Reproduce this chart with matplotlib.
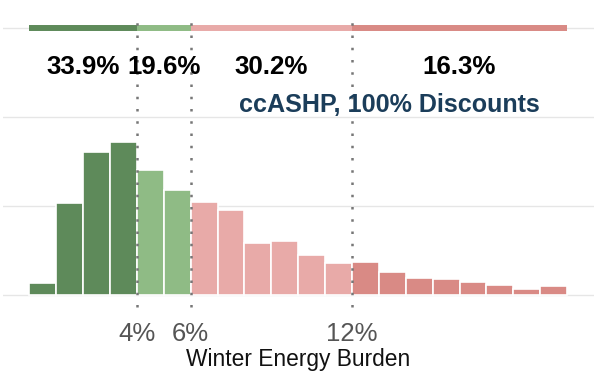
import numpy as np
import matplotlib.pyplot as plt

plt.rcParams['font.family'] = ['Liberation Sans', 'DejaVu Sans']

# 能源负担分布 (每 1% 一个区间)
bin_left = np.arange(0, 20)
counts = [0.13, 1.03, 1.60, 1.71, 1.40, 1.18, 1.04, 0.955, 0.58, 0.60,
          0.44, 0.35, 0.37, 0.25, 0.19, 0.18, 0.146, 0.105, 0.06, 0.098]

# 分组
cuts = [0, 4, 6, 12, 20]
group_colors = ['#5e8a5a', '#8fbb85', '#e8aaa8', '#d98a85']
group_share = ['33.9%', '19.6%', '30.2%', '16.3%']
tick_pos = [4, 6, 12]
tick_lab = ['4%', '6%', '12%']

fig = plt.figure(figsize=(6.07, 3.88), dpi=100)
ax = fig.add_axes([0.0043, 0.2088, 0.9741, 0.789])

# 柱子颜色
bar_colors = []
for x in bin_left:
    for i in range(4):
        if cuts[i] <= x < cuts[i + 1]:
            bar_colors.append(group_colors[i])
ax.bar(bin_left, counts, width=1, align='edge', color=bar_colors,
       edgecolor='white', linewidth=1.2, zorder=2)

# 网格线
for y in [0, 1, 2, 3]:
    ax.axhline(y, color='#e6e6e6', lw=1, zorder=0)

# 顶部色条和百分比
for i in range(4):
    ax.plot([cuts[i], cuts[i + 1]], [3, 3], color=group_colors[i],
            lw=4.3, solid_capstyle='butt', zorder=3)
    ax.text((cuts[i] + cuts[i + 1]) / 2, 2.556, group_share[i],
            ha='center', va='center', fontsize=18.6, fontweight='bold',
            color='black', zorder=5)

# 虚线分割
for x in tick_pos:
    ax.plot([x, x], [-0.14, 3.15], color='#777777', lw=1.8,
            linestyle=(0, (1, 3.9)), zorder=4, clip_on=False)

ax.text(19.0, 2.13, 'ccASHP, 100% Discounts', ha='right', va='center',
        fontsize=18.1, fontweight='bold', color='#1b3d5a', zorder=5)

ax.set_xlim(-1, 21)
ax.set_ylim(-0.14, 3.3)
ax.set_xticks(tick_pos)
ax.set_xticklabels(tick_lab, fontsize=18.5, color='#555555')
ax.tick_params(axis='x', length=0, pad=11)
ax.set_yticks([])
ax.set_xlabel('Winter Energy Burden', fontsize=16.4, color='#111111',
              labelpad=1)
for s in ax.spines.values():
    s.set_visible(False)

plt.savefig('out.png', dpi=100)
